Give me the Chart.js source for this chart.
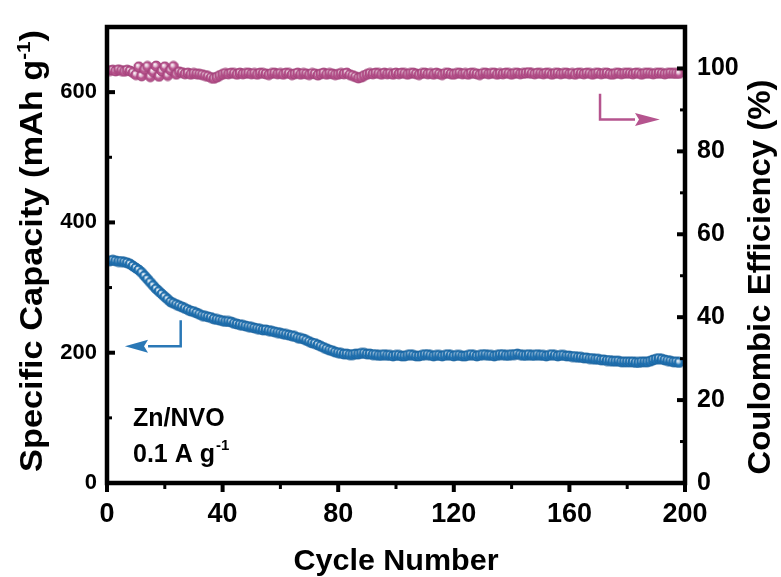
<!DOCTYPE html>
<html>
<head>
<meta charset="utf-8">
<script src="https://cdn.jsdelivr.net/npm/chart.js@4.4.1/dist/chart.umd.min.js"></script>
<style>
  html, body { margin: 0; padding: 0; background: #fff; }
  #wrap { width: 781px; height: 577px; }
</style>
</head>
<body>
<div id="wrap"><canvas id="chart" width="781" height="577"></canvas></div>
<script>
// Zn/NVO cycling at 0.1 A g-1: capacity (left axis) + coulombic efficiency (right axis)

const CAPACITY = [
  341, 342, 341, 340, 340, 339, 338, 336, 333, 330,
  327, 323, 318, 313, 308, 303, 298, 294, 290, 286,
  282, 278, 276, 274, 272, 270, 268, 266, 264, 263,
  261, 259, 257, 256, 255, 254, 252, 251, 250, 249,
  248, 248, 247, 245, 244, 243, 242, 241, 240, 239,
  238, 237, 236, 235, 235, 234, 233, 232, 231, 230,
  229, 228, 227, 226, 225, 223, 222, 221, 219, 217,
  215, 214, 212, 210, 208, 206, 204, 203, 201, 200,
  199, 198, 198, 197, 197, 198, 198, 199, 199, 198,
  198, 197, 197, 196, 196, 197, 196, 196, 195, 196,
  196, 195, 195, 196, 197, 196, 195, 195, 196, 197,
  197, 196, 195, 196, 196, 195, 196, 197, 196, 195,
  196, 196, 195, 195, 196, 197, 196, 195, 196, 197,
  197, 196, 196, 195, 196, 197, 197, 196, 196, 197,
  197, 198, 197, 196, 196, 197, 196, 196, 197, 196,
  196, 195, 196, 197, 196, 195, 196, 196, 195, 195,
  194, 194, 193, 193, 192, 192, 191, 191, 190, 190,
  189, 189, 188, 188, 187, 187, 187, 186, 186, 186,
  186, 186, 185, 185, 186, 186, 186, 187, 189, 190,
  191, 190, 189, 188, 187, 186, 186, 185
];

const EFFICIENCY = [
  99.5, 99.6, 99.4, 99.7, 99.5, 99.3, 99.6, 99.4, 99.0, 98.5,
  100.4, 98.2, 99.8, 100.5, 98.0, 99.2, 100.6, 98.1, 99.4, 100.4,
  98.3, 99.6, 100.5, 98.6, 99.2, 99.0, 98.7, 98.9, 98.6, 98.8,
  98.7, 98.6, 98.5, 98.3, 98.1, 97.8, 97.6, 97.9, 98.3, 98.6,
  98.8, 98.7, 98.9, 98.8, 98.6, 98.9, 98.7, 98.8, 98.9, 98.7,
  98.8, 98.6, 98.9, 98.8, 98.7, 98.5, 98.8, 98.9, 98.7, 98.8,
  98.6, 98.9, 98.8, 98.5, 98.7, 98.9, 98.6, 98.8, 98.7, 98.5,
  98.8, 98.7, 98.4, 98.7, 98.9, 98.6, 98.8, 98.7, 98.5, 98.6,
  98.8, 98.7, 98.9, 98.5, 98.3, 98.0, 97.7, 97.9, 98.3, 98.6,
  98.8, 98.7, 98.9, 98.8, 98.6, 98.9, 98.7, 98.8, 98.6, 98.9,
  98.7, 98.9, 98.8, 98.6, 98.8, 98.9, 98.7, 98.5, 98.8, 98.9,
  98.7, 98.8, 98.6, 98.9, 98.7, 98.5, 98.8, 98.9, 98.7, 98.6,
  98.8, 98.9, 98.7, 98.8, 98.6, 98.9, 98.8, 98.7, 98.5, 98.8,
  98.9, 98.7, 98.8, 98.9, 98.6, 98.8, 98.7, 98.9, 98.8, 98.6,
  98.8, 98.9, 98.7, 98.8, 98.9, 99.0, 98.8, 98.7, 98.9, 98.8,
  98.7, 98.9, 98.8, 98.6, 98.8, 98.9, 98.7, 98.8, 98.9, 98.7,
  98.8, 98.6, 98.9, 98.8, 98.7, 98.9, 98.8, 98.6, 98.8, 98.9,
  98.7, 98.8, 98.9, 98.7, 98.6, 98.8, 98.9, 98.7, 98.8, 98.9,
  98.8, 98.7, 98.9, 98.8, 98.6, 98.8, 98.9, 98.8, 98.7, 98.8,
  98.9, 98.8, 98.7, 98.8, 98.9, 98.8, 98.8, 98.8
];

// cycle number of each point (1, 2, 3, ...)
const CYCLES = CAPACITY.map((_, i) => i + 1);

const X_TICKS = [0, 40, 80, 120, 160, 200];
const LEFT_TICKS = [0, 200, 400, 600];
const RIGHT_TICKS = [0, 20, 40, 60, 80, 100];

const BLUE = '#2174b4';
const PINK = '#b8538d';
const FONT = 'Arial, "Liberation Sans", sans-serif';

// shaded ball marker, like the origin "sphere" symbol
function ball(color, edge) {
    const s = 12;
    const c = document.createElement('canvas');
    c.width = s; c.height = s;
    const g = c.getContext('2d');
    const cx = s / 2, cy = s / 2, r = 5;
    const grd = g.createRadialGradient(cx - 1.6, cy - 1.8, 0.2, cx, cy, r);
    grd.addColorStop(0, '#ffffff');
    grd.addColorStop(0.3, 'rgba(255,255,255,0.6)');
    grd.addColorStop(0.55, color);
    grd.addColorStop(1, color);
    g.beginPath();
    g.arc(cx, cy, r, 0, Math.PI * 2);
    g.fillStyle = color;
    g.fill();
    g.fillStyle = grd;
    g.fill();
    g.lineWidth = 0.8;
    g.strokeStyle = edge;
    g.stroke();
    return c;
}

// draw text stretched to a given length, optionally rotated
function fitText(ctx, parts, x, y, len, rot, size) {
    ctx.save();
    ctx.translate(x, y);
    ctx.rotate(rot);
    let w = 0;
    parts.forEach(p => {
        ctx.font = `bold ${p.sup ? size * 0.6 : size}px ${FONT}`;
        w += ctx.measureText(p.t).width;
    });
    ctx.scale(len / w, 1);
    let cx = -w / 2;
    ctx.textBaseline = 'alphabetic';
    ctx.textAlign = 'left';
    ctx.fillStyle = '#000';
    parts.forEach(p => {
        ctx.font = `bold ${p.sup ? size * 0.6 : size}px ${FONT}`;
        ctx.fillText(p.t, cx, p.sup ? -size * 0.38 : 0);
        cx += ctx.measureText(p.t).width;
    });
    ctx.restore();
}

function arrow(ctx, pts, color) {
    ctx.save();
    ctx.strokeStyle = color;
    ctx.fillStyle = color;
    ctx.lineWidth = 2.5;
    ctx.beginPath();
    ctx.moveTo(pts[0][0], pts[0][1]);
    ctx.lineTo(pts[1][0], pts[1][1]);
    ctx.lineTo(pts[2][0], pts[2][1]);
    ctx.stroke();
    // arrow head from pts[2] to tip pts[3]
    const [bx, by] = pts[2], [tx, ty] = pts[3];
    const dir = Math.sign(tx - bx);
    ctx.beginPath();
    ctx.moveTo(tx, ty);
    ctx.lineTo(bx, by - 6.5);
    ctx.lineTo(bx + dir * 4, by);
    ctx.lineTo(bx, by + 6.5);
    ctx.closePath();
    ctx.fill();
    ctx.restore();
}

const decor = {
    id: 'decor',
    afterDatasetsDraw(chart) {
        const { ctx, chartArea: a, scales } = chart;
        const sx = scales.x, sl = scales.y, sr = scales.y1;
        ctx.save();
        ctx.strokeStyle = '#000';
        ctx.lineCap = 'butt';

        // ticks: left/right inward, bottom outward
        const tick = (x1, y1, x2, y2, w) => {
            ctx.lineWidth = w;
            ctx.beginPath(); ctx.moveTo(x1, y1); ctx.lineTo(x2, y2); ctx.stroke();
        };
        LEFT_TICKS.forEach(v => { const y = sl.getPixelForValue(v); tick(a.left, y, a.left + 8, y, 4); });
        LEFT_TICKS.forEach(v => { const y = sl.getPixelForValue(v + 100); tick(a.left, y, a.left + 5, y, 3); });
        RIGHT_TICKS.forEach(v => { const y = sr.getPixelForValue(v); tick(a.right, y, a.right - 8, y, 4); });
        RIGHT_TICKS.forEach(v => { const y = sr.getPixelForValue(v + 10); tick(a.right, y, a.right - 5, y, 3); });
        X_TICKS.forEach(v => { const x = sx.getPixelForValue(v); tick(x, a.bottom, x, a.bottom + 9, 4); });
        X_TICKS.slice(0, -1).forEach(v => { const x = sx.getPixelForValue(v + 20); tick(x, a.bottom, x, a.bottom + 6, 3); });

        // frame
        ctx.lineWidth = 4.5;
        ctx.strokeRect(a.left, a.top, a.right - a.left, a.bottom - a.top);

        // direction arrows
        arrow(ctx, [
            [sx.getPixelForValue(25.5), sl.getPixelForValue(250)],
            [sx.getPixelForValue(25.5), sl.getPixelForValue(210)],
            [sx.getPixelForValue(14.2), sl.getPixelForValue(210)],
            [sx.getPixelForValue(6.2), sl.getPixelForValue(210)]
        ], '#2a78b6');
        arrow(ctx, [
            [sx.getPixelForValue(170.6), sr.getPixelForValue(93.9)],
            [sx.getPixelForValue(170.6), sr.getPixelForValue(87.7)],
            [sx.getPixelForValue(182.7), sr.getPixelForValue(87.7)],
            [sx.getPixelForValue(191.3), sr.getPixelForValue(87.7)]
        ], '#b5548e');

        // sample labels
        ctx.fillStyle = '#000';
        ctx.textAlign = 'left';
        ctx.textBaseline = 'alphabetic';
        const lx = sx.getPixelForValue(9);
        ctx.font = `bold 25px ${FONT}`;
        ctx.fillText('Zn/NVO', lx, sl.getPixelForValue(87));
        ctx.fillText('0.1 A g', lx, sl.getPixelForValue(33));
        const gw = ctx.measureText('0.1 A g').width;
        ctx.font = `bold 15px ${FONT}`;
        ctx.fillText('-1', lx + gw + 1, sl.getPixelForValue(50));

        // axis titles
        fitText(ctx, [{ t: 'Cycle Number' }], (a.left + a.right) / 2, 570, 205, 0, 30);
        fitText(ctx, [{ t: 'Specific Capacity (mAh g' }, { t: '-1', sup: true }, { t: ')' }],
            42, 251, 442, -Math.PI / 2, 31);
        fitText(ctx, [{ t: 'Coulombic Efficiency (%)' }], 770, 277, 395, -Math.PI / 2, 31);
        ctx.restore();
    }
};

const capPts = CAPACITY.map((v, i) => ({ x: CYCLES[i], y: v }));
const cePts = EFFICIENCY.map((v, i) => ({ x: CYCLES[i], y: v }));

new Chart(document.getElementById('chart').getContext('2d'), {
    type: 'line',
    data: {
        datasets: [
            {
                label: 'Specific Capacity',
                data: capPts,
                yAxisID: 'y',
                showLine: false,
                pointStyle: ball(BLUE, '#1b5f98'),
                pointRadius: 5
            },
            {
                label: 'Coulombic Efficiency',
                data: cePts,
                yAxisID: 'y1',
                showLine: false,
                pointStyle: ball(PINK, '#9a3d74'),
                pointRadius: 5
            }
        ]
    },
    options: {
        responsive: false,
        devicePixelRatio: 1,
        animation: false,
        layout: { padding: { top: 17, left: 0, right: 0, bottom: 0 } },
        plugins: { legend: { display: false }, tooltip: { enabled: false } },
        scales: {
            x: {
                type: 'linear',
                min: 0,
                max: 200,
                afterBuildTicks: s => { s.ticks = X_TICKS.map(v => ({ value: v })); },
                afterFit: s => { s.height = 94; },
                grid: { display: false, drawTicks: false },
                border: { display: false },
                ticks: { color: '#000', padding: 15, font: { family: FONT, size: 27, weight: 'bold' } }
            },
            y: {
                position: 'left',
                min: 0,
                max: 700,
                afterBuildTicks: s => { s.ticks = LEFT_TICKS.map(v => ({ value: v })); },
                afterFit: s => { s.width = 107; },
                grid: { display: false, drawTicks: false },
                border: { display: false },
                ticks: { color: '#000', padding: 10, font: { family: FONT, size: 22, weight: 'bold' } }
            },
            y1: {
                position: 'right',
                min: 0,
                max: 110,
                afterBuildTicks: s => { s.ticks = RIGHT_TICKS.map(v => ({ value: v })); },
                afterFit: s => { s.width = 96; },
                grid: { display: false, drawTicks: false },
                border: { display: false },
                ticks: { color: '#000', padding: 12, font: { family: FONT, size: 25, weight: 'bold' } }
            }
        }
    },
    plugins: [decor]
});
</script>
</body>
</html>
